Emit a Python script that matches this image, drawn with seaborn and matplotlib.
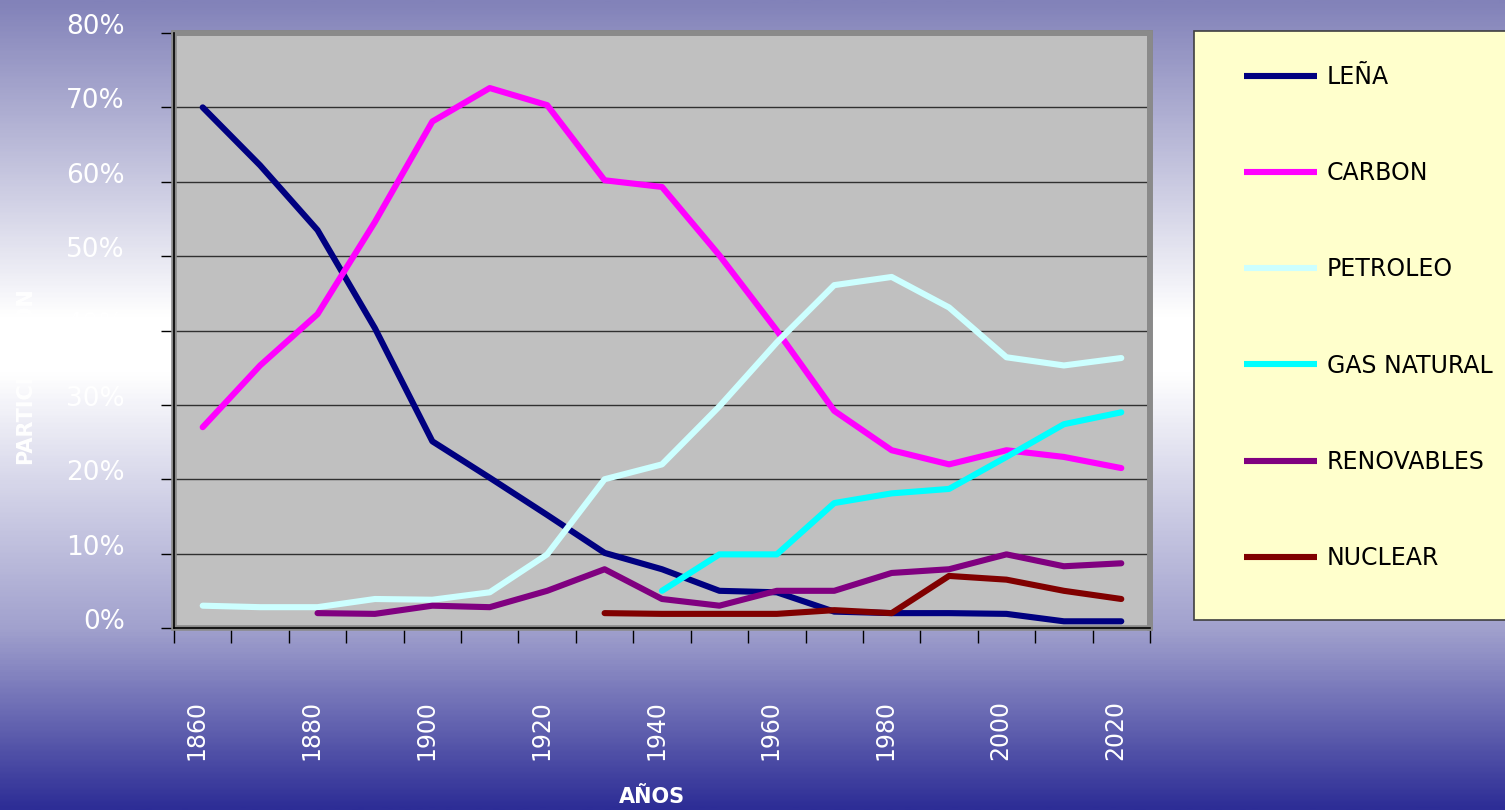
import numpy as np
import pandas as pd
import matplotlib
matplotlib.use("Agg")
import matplotlib.pyplot as plt
import matplotlib.transforms as mtransforms
from matplotlib.colors import LinearSegmentedColormap
from matplotlib.lines import Line2D
from matplotlib.patches import Rectangle
from matplotlib.ticker import FixedLocator, PercentFormatter
import seaborn as sns

# data (share of primary energy, %)
years = list(range(1860, 2030, 10))
lena = [70, 62.2, 53.5, 40.3, 25.1, 20.2, 15.2, 10.1, 7.9, 5.0, 4.8, 2.2, 2.0, 2.0, 1.9, 0.9, 0.9]
carbon = [27, 35.3, 42.2, 54.6, 68.1, 72.6, 70.3, 60.2, 59.3, 50.1, 40.0, 29.2, 23.9, 22.0, 23.9, 23.0, 21.5]
petroleo = [3.0, 2.8, 2.8, 3.9, 3.8, 4.8, 9.9, 20.0, 22.0, 29.8, 38.4, 46.1, 47.2, 43.1, 36.4, 35.3, 36.3]
gas_natural = [None] * 8 + [5.0, 9.9, 9.9, 16.8, 18.1, 18.7, 23.0, 27.4, 29.0]
renovables = [None] * 2 + [2.0, 1.9, 3.0, 2.8, 5.0, 7.9, 3.9, 3.0, 5.0, 5.0, 7.4, 7.9, 9.9, 8.3, 8.7]
nuclear = [None] * 7 + [2.0, 1.9, 1.9, 1.9, 2.4, 2.0, 7.0, 6.5, 5.0, 3.9]

series_names = ["LEÑA", "CARBON", "PETROLEO", "GAS NATURAL", "RENOVABLES", "NUCLEAR"]
series_colors = ["#000080", "#FF00FF", "#CCFFFF", "#00FFFF", "#800080", "#800000"]

df = pd.DataFrame({"year": years, "LEÑA": lena, "CARBON": carbon, "PETROLEO": petroleo,
                   "GAS NATURAL": gas_natural, "RENOVABLES": renovables, "NUCLEAR": nuclear})
long_df = df.melt(id_vars="year", var_name="fuente", value_name="share").dropna()
long_df["share"] = long_df["share"].astype(float) / 100

sns.set_style("white")
plt.rcParams["font.family"] = ["DejaVu Sans"]

W, H = 1505, 810
fig = plt.figure(figsize=(W / 100, H / 100), dpi=100)

# background gradient
bg = fig.add_axes([0, 0, 1, 1], zorder=-10)
bg.set_axis_off()
grad_cmap = LinearSegmentedColormap.from_list("bg", [
    (0.0, (130 / 255, 130 / 255, 185 / 255)),
    (0.39, (1.0, 1.0, 1.0)),
    (0.46, (1.0, 1.0, 1.0)),
    (0.78, (160 / 255, 160 / 255, 205 / 255)),
    (1.0, (45 / 255, 45 / 255, 150 / 255)),
])
bg.imshow(np.linspace(0, 1, 400).reshape(-1, 1), aspect="auto", cmap=grad_cmap,
          extent=[0, 1, 0, 1], origin="upper")
bg.set_xlim(0, 1)
bg.set_ylim(0, 1)

# plot area
x0, x1, y0, y1 = 174, 1150, 33, 628
ax = fig.add_axes([x0 / W, 1 - y1 / H, (x1 - x0) / W, (y1 - y0) / H])
ax.set_facecolor("#C0C0C0")

sns.lineplot(data=long_df, x="year", y="share", hue="fuente", hue_order=series_names,
             palette=dict(zip(series_names, series_colors)), linewidth=4.4,
             errorbar=None, legend=False, ax=ax, zorder=5)

ax.set_xlim(1855, 2025)
ax.set_ylim(0, 0.8)
ax.yaxis.set_major_locator(FixedLocator(np.arange(0, 0.81, 0.1)))
ax.yaxis.set_major_formatter(PercentFormatter(1.0, decimals=0))
ax.grid(axis="y", color="#303030", linewidth=1.0)
ax.grid(axis="x", visible=False)
ax.set_axisbelow(True)

# year labels every 20, tick marks at category borders
ax.xaxis.set_major_locator(FixedLocator(years[::2]))
ax.xaxis.set_minor_locator(FixedLocator(np.arange(1855, 2026, 10)))
ax.tick_params(axis="x", which="major", bottom=True, length=0, pad=52, labelsize=17,
               labelcolor="white", labelrotation=90)
ax.tick_params(axis="x", which="minor", bottom=True, length=11, width=1, color="black",
               direction="out")
ax.tick_params(axis="y", left=True, length=9.5, width=1, color="black", direction="out",
               pad=26, labelsize=19, labelcolor="white")
for lab in ax.get_yticklabels():
    lab.set_transform(lab.get_transform() + mtransforms.ScaledTranslation(0, 9 / 100, fig.dpi_scale_trans))
for lab in ax.get_xticklabels():
    lab.set_transform(lab.get_transform() + mtransforms.ScaledTranslation(-6 / 100, 0, fig.dpi_scale_trans))

ax.set_xlabel("")
ax.set_ylabel("")

# wall frame and axis lines
for side in ["top", "right"]:
    ax.spines[side].set_color("#808080")
    ax.spines[side].set_linewidth(4)
for side in ["left", "bottom"]:
    ax.spines[side].set_color("black")
    ax.spines[side].set_linewidth(1.2)
    ax.spines[side].set_zorder(10)
ax.add_patch(Rectangle((0, 0), 1, 1, transform=ax.transAxes, fill=False,
                       edgecolor="#8a8a8a", linewidth=4, zorder=8, clip_on=False))

fig.text(652 / W, 1 - 797 / H, "AÑOS", color="white", fontsize=15, fontweight="bold",
         ha="center", va="center")
fig.text(25 / W, 1 - 376 / H, "PARTICIPACION", color="white", fontsize=15, fontweight="bold",
         ha="center", va="center", rotation=90)

# legend box
fig.patches.append(Rectangle((1194 / W, 1 - 620 / H), (1520 - 1194) / W, (620 - 31) / H,
                             transform=fig.transFigure, facecolor="#FFFFCC",
                             edgecolor="#404040", linewidth=1.2, zorder=1))
handles = [Line2D([], [], color=c, linewidth=4.4, solid_capstyle="butt") for c in series_colors]
leg = fig.legend(handles, series_names, loc="upper left", bbox_to_anchor=(1244 / W, 1 - 65 / H),
                 frameon=False, fontsize=17, handlelength=3.1, handletextpad=0.42,
                 labelspacing=3.06, borderaxespad=0, borderpad=0)
for t in leg.get_texts():
    t.set_color("black")

fig.savefig("out.png", dpi=100)
